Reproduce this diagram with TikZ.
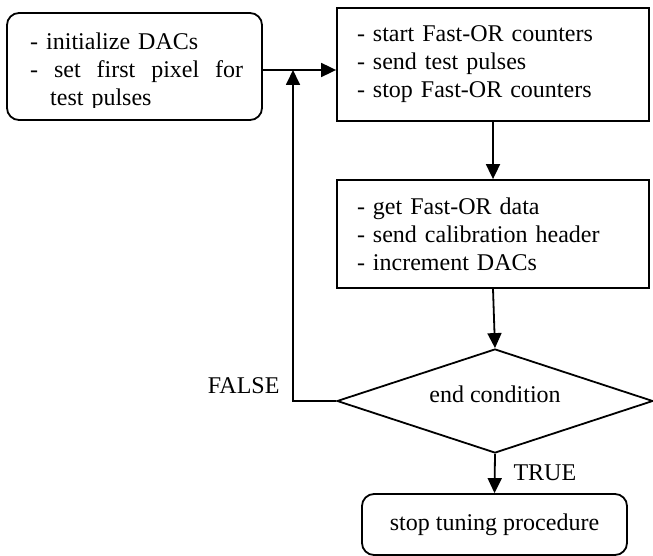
\documentclass[tikz,border=0pt]{standalone}
\usepackage{fontspec}
\setmainfont{Liberation Serif}
\usetikzlibrary{shapes.geometric,arrows.meta,calc}
\tikzset{
  box/.style={draw, line width=1.8pt, inner sep=0pt},
  rbox/.style={box, rounded corners=12pt},
  txt/.style={font=\fontsize{24}{28}\selectfont},
  listbox/.style={box, txt, align=left, text width=272pt, inner xsep=20pt},
  flow/.style={line width=1.8pt, -{Triangle[length=15pt,width=14pt]}},
}
\begin{document}
\begin{tikzpicture}[x=1pt,y=-1pt]
\useasboundingbox (0,0) rectangle (653,556);

\node[rbox, minimum width=255pt, minimum height=107pt] (init) at (134.5,66.5) {};
\begin{scope}
\clip ($(init.north west)+(2,2)$) rectangle ($(init.south east)+(-2,-13)$);
\node[txt, align=left, text width=213pt, inner sep=0pt, anchor=north west] (inittext) at (30,33)
  {- initialize DACs\\ \makebox[213pt][l]{-\hfill set\hfill first\hfill pixel\hfill for}\\ \hspace*{20pt}test pulses};
\end{scope}

\node[listbox, minimum width=312pt, minimum height=113pt] (pulse) at (493,64.5)
  {- start Fast-OR counters\\ - send test pulses\\ - stop Fast-OR counters};
\node[listbox, minimum width=312pt, minimum height=108pt] (calib) at (493,234)
  {- get Fast-OR data\\ - send calibration header\\ - increment DACs};
\node[draw, diamond, aspect=3, line width=1.8pt, inner sep=0pt, txt, text depth=14pt,
  minimum width=316pt, minimum height=104pt] (cond) at (495,401) {end condition};
\node[rbox, txt, minimum width=265pt, minimum height=61pt] (stop) at (494.5,524.5) {stop tuning procedure};

\node[txt, anchor=east] (false) at (283,386) {FALSE};
\node[txt, anchor=west] (true) at (510,473) {TRUE};

\coordinate (join) at (293,70);
\draw[flow] (init.east |- join) -- (join -| pulse.west);
\draw[flow] (pulse.south) -- (calib.north);
\draw[flow] (calib.south) -- (cond.north);
\draw[flow] (cond.west) -- (cond.west -| join) -- (join);
\draw[flow] (cond.south) -- (stop.north);
\end{tikzpicture}
\end{document}
